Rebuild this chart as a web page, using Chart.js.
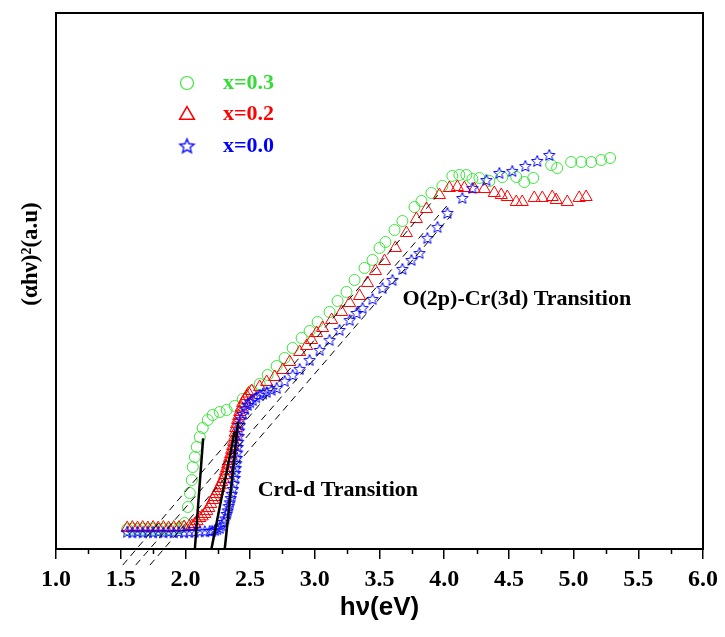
<!DOCTYPE html>
<html><head><meta charset="utf-8">
<script src="https://cdn.jsdelivr.net/npm/chart.js@4.4.0/dist/chart.umd.min.js"></script>
<style>html,body{margin:0;padding:0;background:#fff;}canvas{display:block;}</style>
</head><body>
<canvas id="c" width="725" height="637"></canvas>
<script>
// ---------- DATA ----------
const xTickValues = [1.0,1.5,2.0,2.5,3.0,3.5,4.0,4.5,5.0,5.5,6.0];
const xMinorTicks = [1.25,1.75,2.25,2.75,3.25,3.75,4.25,4.75,5.25,5.75];
const seriesLabels = ['x=0.3','x=0.2','x=0.0'];

const greenX = [1.55,1.59,1.63,1.67,1.71,1.75,1.79,1.83,1.87,1.91,1.95,1.98,
  1.995,2.019,2.034,2.049,2.057,2.073,2.088,2.111,2.134,2.173,2.211,2.265,2.319,2.381,2.443,2.512,2.574,
  2.636,2.705,2.767,2.829,2.898,2.960,3.022,3.114,3.176,3.245,3.307,3.384,3.446,3.500,3.546,3.616,3.677,
  3.770,3.824,3.901,3.986,4.063,4.117,4.171,4.218,4.272,4.349,4.449,4.557,4.619,4.688,4.827,4.873,4.981,
  5.059,5.136,5.213,5.282];
const greenY = [3.7,3.8,3.7,3.8,3.7,3.8,3.7,3.8,3.7,3.8,3.9,4.1,
  4.85,7.84,10.45,12.87,15.30,17.16,19.03,20.90,22.57,24.07,25.00,25.56,25.93,26.68,27.99,29.48,30.78,
  32.46,34.14,35.63,37.50,39.37,40.67,42.35,44.22,46.27,47.95,50.19,52.43,53.92,56.16,57.28,59.51,61.19,
  63.81,64.93,66.42,67.72,69.59,69.78,69.78,69.03,69.22,68.66,69.40,69.40,68.47,69.22,71.64,71.08,72.20,
  72.20,72.20,72.57,72.95];

const redX = [1.55,1.59,1.63,1.67,1.71,1.75,1.79,1.83,1.87,1.91,1.95,1.99,2.03,2.05,
  2.073,2.09,2.111,2.13,2.150,2.165,2.181,2.196,2.211,2.223,2.235,2.247,2.258,2.27,2.281,2.292,2.304,2.311,
  2.319,2.327,2.335,2.342,2.350,2.358,2.366,2.373,2.381,2.385,2.389,2.396,2.404,2.412,2.420,2.432,
  2.443,2.458,2.474,2.49,2.512,2.574,2.628,2.690,2.752,2.806,2.883,2.937,2.975,3.014,3.060,3.130,3.207,3.269,3.346,
  3.407,3.469,3.539,3.623,3.708,3.785,3.863,3.963,4.040,4.102,4.156,4.233,4.310,4.387,4.441,4.488,4.557,
  4.603,4.696,4.758,4.835,4.866,4.951,5.043,5.097];
const redY = [3.9,4.0,3.9,4.0,3.9,4.0,3.9,4.0,3.9,4.0,4.0,4.1,4.2,4.3,
  4.66,5.2,5.78,6.1,6.53,7.1,7.65,8.4,9.14,9.7,10.26,10.8,11.38,11.9,12.50,13.1,13.81,14.5,
  15.11,15.8,16.42,17.0,17.72,18.5,19.22,20.0,20.90,21.7,22.57,23.3,24.07,24.8,25.56,26.4,
  27.24,27.9,28.54,29.0,29.48,30.22,31.16,32.09,33.40,34.89,36.75,37.87,38.99,40.30,41.23,42.72,44.22,45.90,47.20,
  49.63,51.87,53.73,56.16,58.96,61.57,63.43,66.04,67.35,67.54,67.35,67.16,67.16,66.42,66.04,65.67,64.74,
  64.74,65.49,65.49,65.67,65.11,64.74,65.49,65.67];

const blueX = [1.55,1.59,1.63,1.67,1.71,1.75,1.79,1.83,1.87,1.91,1.95,1.99,2.03,2.07,2.11,2.15,
  2.188,2.207,2.227,2.246,2.265,2.28,2.296,2.308,2.319,2.327,2.335,2.343,2.350,2.358,2.366,2.374,2.381,2.385,
  2.389,2.393,2.397,2.401,2.404,2.408,2.412,2.416,2.420,2.43,2.443,2.462,2.481,2.50,2.520,2.547,
  2.574,2.60,2.628,2.666,2.705,2.767,2.829,2.883,2.960,3.037,3.114,3.191,3.269,3.323,3.369,3.446,3.523,3.600,3.677,
  3.747,3.809,3.870,3.948,4.025,4.140,4.218,4.326,4.426,4.526,4.627,4.719,4.812];
const blueY = [3.2,3.1,3.2,3.1,3.2,3.1,3.2,3.1,3.2,3.1,3.2,3.1,3.2,3.2,3.3,3.3,
  3.36,3.4,3.54,3.7,3.92,4.4,5.04,5.7,6.53,7.2,8.02,8.7,9.51,10.3,11.19,12.2,13.25,14.2,
  15.11,16.0,16.98,18.0,19.03,20.0,21.08,22.1,23.13,24.2,25.19,26.1,26.87,27.4,27.80,28.3,
  28.73,29.0,29.29,29.7,30.04,31.34,32.46,33.58,35.26,37.13,38.99,40.86,42.72,44.03,44.96,46.64,48.69,50.19,52.24,
  53.92,55.22,58.02,60.07,62.69,65.49,67.35,68.84,70.15,70.52,71.46,72.39,73.51];

// tangent lines (x pairs, y pairs)
const solidLinesX = [[2.073,2.137],[2.201,2.381],[2.304,2.407]];
const solidLinesY = [[0,20.65],[0,21.9],[0,23.75]];
const dashedLinesX = [[1.516,3.95],[1.616,4.02],[1.726,4.08]];
const dashedLinesY = [[-3,66],[-3,64],[-3,63]];

const annotations = [
  {text:'O(2p)-Cr(3d) Transition', x:3.677, y:46.5},
  {text:'Crd-d Transition', x:2.559, y:11.0}
];

// ---------- STYLES ----------
const GREEN = '#3ce63c', RED = '#ff0000', BLUE = '#0000ff';
const SERIF = "'Liberation Serif','Times New Roman',serif";

function makeStar(r, color, lw){
  const s = Math.ceil(r*2+4);
  const c = document.createElement('canvas'); c.width = s; c.height = s;
  const g = c.getContext('2d');
  g.strokeStyle = color; g.lineWidth = lw; g.lineJoin='miter';
  g.beginPath();
  for (let i=0;i<10;i++){
    const a = -Math.PI/2 + i*Math.PI/5;
    const rr = (i%2) ? r*0.45 : r;
    const px = s/2 + rr*Math.cos(a), py = s/2 + 0.5 + rr*Math.sin(a);
    if (i===0) g.moveTo(px,py); else g.lineTo(px,py);
  }
  g.closePath(); g.stroke();
  return c;
}
const starImg = makeStar(6, BLUE, 1);
const starLegend = makeStar(7.5, BLUE, 1.3);

function pts(xs, ys){ return xs.map((x,i)=>({x:x, y:ys[i]})); }

const datasets = [];
solidLinesX.forEach((xs,i)=>datasets.push({
  data: pts(xs, solidLinesY[i]), showLine:true, borderColor:'#000', borderWidth:2.5,
  pointRadius:0, clip:false, fill:false
}));
dashedLinesX.forEach((xs,i)=>datasets.push({
  data: pts(xs, dashedLinesY[i]), showLine:true, borderColor:'#000', borderWidth:1,
  borderDash:[7,5], pointRadius:0, clip:false, fill:false
}));
datasets.push({label:seriesLabels[2], data: pts(blueX,blueY), showLine:false,
  pointStyle: starImg, pointRadius:6, borderColor:BLUE, backgroundColor:'rgba(0,0,0,0)'});
datasets.push({label:seriesLabels[1], data: pts(redX,redY), showLine:false,
  pointStyle:'triangle', pointRadius:7, borderWidth:1, borderColor:RED, backgroundColor:'rgba(0,0,0,0)'});
datasets.push({label:seriesLabels[0], data: pts(greenX,greenY), showLine:false,
  pointStyle:'circle', pointRadius:5.5, borderWidth:1, borderColor:GREEN, backgroundColor:'rgba(0,0,0,0)'});

const extras = {
  id:'extras',
  afterDraw(chart){
    const ctx = chart.ctx, a = chart.chartArea;
    const xs = chart.scales.x, ys = chart.scales.y;
    ctx.save();
    // frame
    ctx.strokeStyle = '#000'; ctx.lineWidth = 2;
    ctx.strokeRect(a.left, a.top, a.right-a.left, a.bottom-a.top);
    // minor ticks
    ctx.lineWidth = 1.5;
    xMinorTicks.forEach(v=>{
      const px = Math.round(xs.getPixelForValue(v))+0.5;
      ctx.beginPath(); ctx.moveTo(px, a.bottom); ctx.lineTo(px, a.bottom+5); ctx.stroke();
    });
    // y title
    ctx.save();
    ctx.translate(31, 254);
    ctx.rotate(-Math.PI/2);
    ctx.fillStyle = '#000'; ctx.font = "bold 23px " + SERIF;
    ctx.textAlign = 'center'; ctx.textBaseline = 'middle';
    ctx.fillText('(\u03b1h\u03bd)\u00b2(a.u)', 0, 0);
    ctx.restore();
    // annotations
    ctx.fillStyle = '#000'; ctx.font = "bold 22px " + SERIF;
    ctx.textAlign = 'left'; ctx.textBaseline = 'middle';
    annotations.forEach(t=>ctx.fillText(t.text, xs.getPixelForValue(t.x), ys.getPixelForValue(t.y)));
    // legend
    const lx = a.left + 131, ly = a.top + 70, gap = 31;
    const txtCols = ['#33dd33', RED, BLUE];
    ctx.lineWidth = 1.2;
    ctx.strokeStyle = GREEN; ctx.beginPath(); ctx.arc(lx, ly, 6.5, 0, Math.PI*2); ctx.stroke();
    const tr = 8.5, ty = ly + gap;
    ctx.strokeStyle = RED; ctx.lineWidth = 1.5; ctx.beginPath();
    for (let i=0;i<3;i++){ const ang = i*2*Math.PI/3; const px = lx+Math.sin(ang)*tr, py = ty+1-Math.cos(ang)*tr; if(i===0)ctx.moveTo(px,py); else ctx.lineTo(px,py);} 
    ctx.closePath(); ctx.stroke();
    ctx.drawImage(starLegend, lx - starLegend.width/2, ly + 2*gap + 1 - starLegend.height/2);
    ctx.font = "bold 22px " + SERIF;
    seriesLabels.forEach((s,i)=>{ ctx.fillStyle = txtCols[i]; ctx.fillText(s, lx + 36, ly + i*gap + (i===2?1:0)); });
    ctx.restore();
  }
};

new Chart(document.getElementById('c'), {
  type:'scatter',
  data:{datasets},
  options:{
    responsive:false, animation:false, devicePixelRatio:1,
    layout:{padding:{top:13, right:22, left:0, bottom:0}},
    plugins:{legend:{display:false}, tooltip:{enabled:false}},
    scales:{
      x:{type:'linear', min:1, max:6,
        afterBuildTicks(s){ s.ticks = xTickValues.map(v=>({value:v})); },
        afterFit(s){ s.height = 88; },
        ticks:{ callback:(v)=>Number(v).toFixed(1), color:'#000', padding:6, maxRotation:0, autoSkip:false,
          font:{family:SERIF, size:24, weight:'bold'} },
        grid:{ drawOnChartArea:false, drawTicks:true, tickLength:10, color:'#000', lineWidth:1.5 },
        border:{ display:true, color:'#000', width:2 },
        title:{ display:true, text:'h\u03bd(eV)', color:'#000', padding:{top:0,bottom:14},
          font:{family:"'Liberation Sans Narrow','Liberation Sans',Arial,sans-serif", size:26, weight:'bold'} }
      },
      y:{type:'linear', min:0, max:100,
        afterFit(s){ s.width = 56; },
        ticks:{display:false},
        grid:{display:false, drawTicks:false},
        border:{display:true, color:'#000', width:2}
      }
    }
  },
  plugins:[extras]
});
</script>
</body></html>
